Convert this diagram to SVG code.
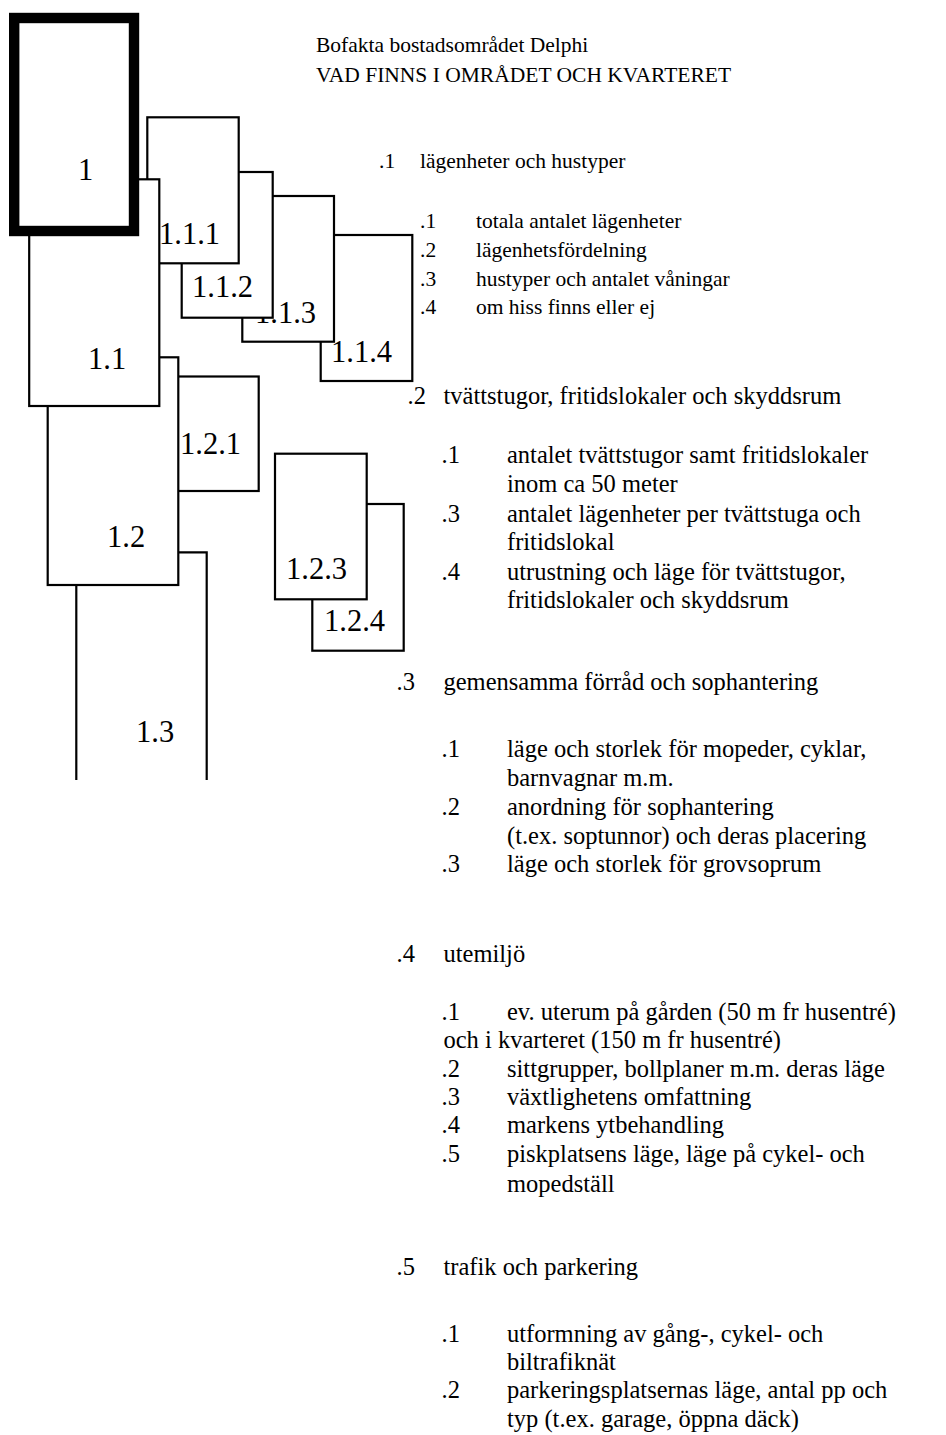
<svg xmlns="http://www.w3.org/2000/svg" width="946" height="1435" viewBox="0 0 946 1435">
<style>
.box{fill:#fff;stroke:#000;stroke-width:2.2}
.lbl{font-family:"Liberation Serif","Times New Roman",serif;font-size:30.5px;fill:#000}
.t1{font-family:"Liberation Serif","Times New Roman",serif;font-size:21.5px;fill:#000}
.t2{font-family:"Liberation Serif","Times New Roman",serif;font-size:24.5px;fill:#000}
</style>
<rect x="0" y="0" width="946" height="1435" fill="#fff"/>
<g id="connectors"/>
<g id="n1_3">
<path class="box" d="M76.3,780 V552.3 H206.7 V780"/>
<text class="lbl" x="136" y="742">1.3</text>
</g>
<g id="n1_2_1">
<rect class="box" x="170" y="376.5" width="88.7" height="114.5"/>
<text class="lbl" x="180" y="454">1.2.1</text>
</g>
<g id="n1_2">
<rect class="box" x="47.7" y="357.3" width="130.6" height="227.7"/>
<text class="lbl" x="107" y="547">1.2</text>
</g>
<g id="n1_1_4">
<rect class="box" x="320.7" y="235" width="91.6" height="146"/>
<text class="lbl" x="331" y="362">1.1.4</text>
</g>
<g id="n1_1_3">
<rect class="box" x="242.3" y="196" width="91.7" height="145.7"/>
<text class="lbl" x="255" y="323">1.1.3</text>
</g>
<g id="n1_1_2">
<rect class="box" x="181.7" y="172" width="91" height="145.7"/>
<text class="lbl" x="192" y="297">1.1.2</text>
</g>
<g id="n1_1_1">
<rect class="box" x="147.3" y="117.3" width="91.4" height="146"/>
<text class="lbl" x="159" y="244">1.1.1</text>
</g>
<g id="n1_1">
<rect class="box" x="29.2" y="179.3" width="130.1" height="226.7"/>
<text class="lbl" x="88" y="369">1.1</text>
</g>
<g id="n1">
<rect x="14.2" y="18" width="119.8" height="213" fill="#fff" stroke="#000" stroke-width="10.4"/>
<text class="lbl" x="78" y="180">1</text>
</g>
<g id="n1_2_4">
<rect class="box" x="312.3" y="504" width="91.4" height="146.7"/>
<text class="lbl" x="324" y="631">1.2.4</text>
</g>
<g id="n1_2_3">
<rect class="box" x="275" y="453.7" width="91.7" height="145.6"/>
<text class="lbl" x="286" y="579">1.2.3</text>
</g>
<g id="title">
<text class="t1" x="316" y="52.3">Bofakta bostadsområdet Delphi</text>
<text class="t1" x="316" y="81.7">VAD FINNS I OMRÅDET OCH KVARTERET</text>
</g>
<g id="section1">
<text class="t1" x="379" y="168.3">.1</text>
<text class="t1" x="420" y="168.3">lägenheter och hustyper</text>
<text class="t1" x="420" y="228.3">.1</text><text class="t1" x="476" y="228.3">totala antalet lägenheter</text>
<text class="t1" x="420" y="257.3">.2</text><text class="t1" x="476" y="257.3">lägenhetsfördelning</text>
<text class="t1" x="420" y="285.7">.3</text><text class="t1" x="476" y="285.7">hustyper och antalet våningar</text>
<text class="t1" x="420" y="314">.4</text><text class="t1" x="476" y="314">om hiss finns eller ej</text>
</g>
<g id="section2">
<text class="t2" x="407.5" y="404">.2</text>
<text class="t2" x="443.5" y="404">tvättstugor, fritidslokaler och skyddsrum</text>
<text class="t2" x="441.5" y="463">.1</text><text class="t2" x="507" y="463">antalet tvättstugor samt fritidslokaler</text>
<text class="t2" x="507" y="492">inom ca 50 meter</text>
<text class="t2" x="441.5" y="522">.3</text><text class="t2" x="507" y="522">antalet lägenheter per tvättstuga och</text>
<text class="t2" x="507" y="550">fritidslokal</text>
<text class="t2" x="441.5" y="580">.4</text><text class="t2" x="507" y="580">utrustning och läge för tvättstugor,</text>
<text class="t2" x="507" y="608">fritidslokaler och skyddsrum</text>
</g>
<g id="section3">
<text class="t2" x="396.5" y="690">.3</text>
<text class="t2" x="443.5" y="690">gemensamma förråd och sophantering</text>
<text class="t2" x="441.5" y="757">.1</text><text class="t2" x="507" y="757">läge och storlek för mopeder, cyklar,</text>
<text class="t2" x="507" y="786">barnvagnar m.m.</text>
<text class="t2" x="441.5" y="815">.2</text><text class="t2" x="507" y="815">anordning för sophantering</text>
<text class="t2" x="507" y="844">(t.ex. soptunnor) och deras placering</text>
<text class="t2" x="441.5" y="872">.3</text><text class="t2" x="507" y="872">läge och storlek för grovsoprum</text>
</g>
<g id="section4">
<text class="t2" x="396.5" y="962">.4</text>
<text class="t2" x="443.5" y="962">utemiljö</text>
<text class="t2" x="441.5" y="1020">.1</text><text class="t2" x="507" y="1020">ev. uterum på gården (50 m fr husentré)</text>
<text class="t2" x="443.5" y="1048">och i kvarteret (150 m fr husentré)</text>
<text class="t2" x="441.5" y="1077">.2</text><text class="t2" x="507" y="1077">sittgrupper, bollplaner m.m. deras läge</text>
<text class="t2" x="441.5" y="1105">.3</text><text class="t2" x="507" y="1105">växtlighetens omfattning</text>
<text class="t2" x="441.5" y="1133">.4</text><text class="t2" x="507" y="1133">markens ytbehandling</text>
<text class="t2" x="441.5" y="1162">.5</text><text class="t2" x="507" y="1162">piskplatsens läge, läge på cykel- och</text>
<text class="t2" x="507" y="1192">mopedställ</text>
</g>
<g id="section5">
<text class="t2" x="396.5" y="1275">.5</text>
<text class="t2" x="443.5" y="1275">trafik och parkering</text>
<text class="t2" x="441.5" y="1342">.1</text><text class="t2" x="507" y="1342">utformning av gång-, cykel- och</text>
<text class="t2" x="507" y="1370">biltrafiknät</text>
<text class="t2" x="441.5" y="1398">.2</text><text class="t2" x="507" y="1398">parkeringsplatsernas läge, antal pp och</text>
<text class="t2" x="507" y="1427">typ (t.ex. garage, öppna däck)</text>
</g>
</svg>
